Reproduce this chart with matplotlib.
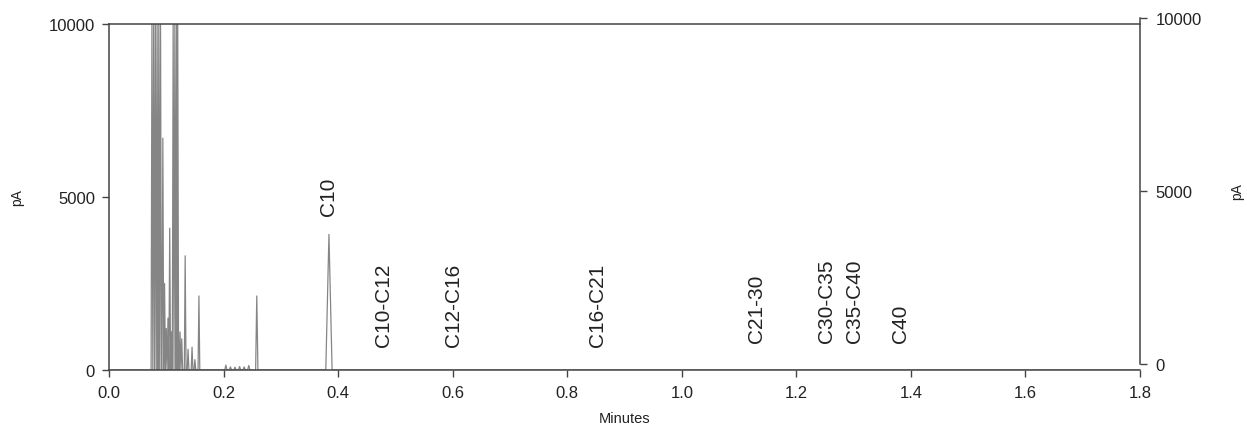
import matplotlib
matplotlib.use("Agg")
import matplotlib.pyplot as plt

plt.rcParams["font.family"] = ["Liberation Sans", "DejaVu Sans"]

# peaks: retention time (min), height (pA), half width (min)
peak_rt = [0.075, 0.078, 0.081, 0.084, 0.087, 0.090, 0.094, 0.097, 0.100,
           0.103, 0.106, 0.109, 0.112, 0.115, 0.118, 0.120, 0.124, 0.127,
           0.133, 0.138, 0.145, 0.150, 0.157, 0.204, 0.212, 0.220, 0.228,
           0.236, 0.244, 0.258, 0.384]
peak_pa = [10000, 10000, 10000, 10000, 10000, 10000, 6700, 2500, 1200,
           1500, 4100, 1100, 10000, 10000, 10000, 10000, 1100, 900,
           3300, 600, 660, 300, 2140, 140, 90, 80, 100, 90, 130, 2140, 3920]
peak_hw = [0.0015, 0.0015, 0.0015, 0.0015, 0.0015, 0.0015, 0.0015, 0.0015,
           0.0015, 0.0015, 0.0015, 0.0015, 0.0015, 0.0015, 0.0015, 0.0015,
           0.0015, 0.0015, 0.0015, 0.0015, 0.0015, 0.0015, 0.0015, 0.002,
           0.002, 0.002, 0.002, 0.002, 0.002, 0.002, 0.0055]

# carbon range markers
label_text = ["C10", "C10-C12", "C12-C16", "C16-C21", "C21-30",
              "C30-C35", "C35-C40", "C40"]
label_rt = [0.384, 0.480, 0.602, 0.853, 1.131, 1.253, 1.302, 1.382]
label_pa = [4490, 700, 700, 700, 810, 810, 810, 810]

x_ticks = [0.0, 0.2, 0.4, 0.6, 0.8, 1.0, 1.2, 1.4, 1.6, 1.8]
y_ticks = [0, 5000, 10000]

# build the trace: baseline with triangular peaks
trace_t = [0.0]
trace_y = [0.0]
for t, h, w in zip(peak_rt, peak_pa, peak_hw):
    trace_t += [t - w, t, t + w]
    trace_y += [0.0, h, 0.0]
trace_t.append(1.8)
trace_y.append(0.0)

W, H = 1247, 427
fig = plt.figure(figsize=(W / 100, H / 100), dpi=100)
ax = fig.add_axes([109 / W, 1 - 371 / H, 1031 / W, 346 / H])
axr = fig.add_axes([109 / W, 1 - 365 / H, 1031 / W, 346 / H])

spine_c = "#444444"
text_c = "#222222"

ax.plot(trace_t, trace_y, color="#858585", lw=0.9)
ax.set_xlim(0, 1.8)
ax.set_ylim(0, 10000)
ax.set_xticks(x_ticks)
ax.set_xticklabels([f"{v:.1f}" for v in x_ticks])
ax.set_yticks(y_ticks)
ax.tick_params(axis="both", direction="out", length=5, width=1,
               color=spine_c, labelcolor=text_c, labelsize=12)
ax.tick_params(axis="x", pad=6)
ax.tick_params(axis="y", pad=5)
for side in ["left", "top", "bottom"]:
    ax.spines[side].set_color(spine_c)
    ax.spines[side].set_linewidth(1.1)
ax.spines["right"].set_visible(False)

for txt, t, y in zip(label_text, label_rt, label_pa):
    ax.text(t, y, txt, rotation=90, ha="center", va="bottom",
            fontsize=15, color=text_c)

# right-hand axis (scan is slightly offset)
axr.patch.set_visible(False)
axr.set_ylim(0, 10000)
axr.set_xlim(0, 1.8)
axr.set_xticks([])
axr.yaxis.tick_right()
axr.set_yticks(y_ticks)
axr.tick_params(axis="y", direction="out", length=5, width=1,
                color=spine_c, labelcolor=text_c, labelsize=12, pad=6)
for side in ["left", "top", "bottom"]:
    axr.spines[side].set_visible(False)
axr.spines["right"].set_color(spine_c)
axr.spines["right"].set_linewidth(1.1)

fig.text(17 / W, 1 - 198 / H, "pA", rotation=90, ha="center", va="center",
         fontsize=10, color=text_c)
fig.text(1237 / W, 1 - 192 / H, "pA", rotation=90, ha="center", va="center",
         fontsize=10, color=text_c)
fig.text(625 / W, 1 - 419 / H, "Minutes", ha="center", va="center",
         fontsize=10.5, color=text_c)

fig.savefig("out.png", dpi=100)
